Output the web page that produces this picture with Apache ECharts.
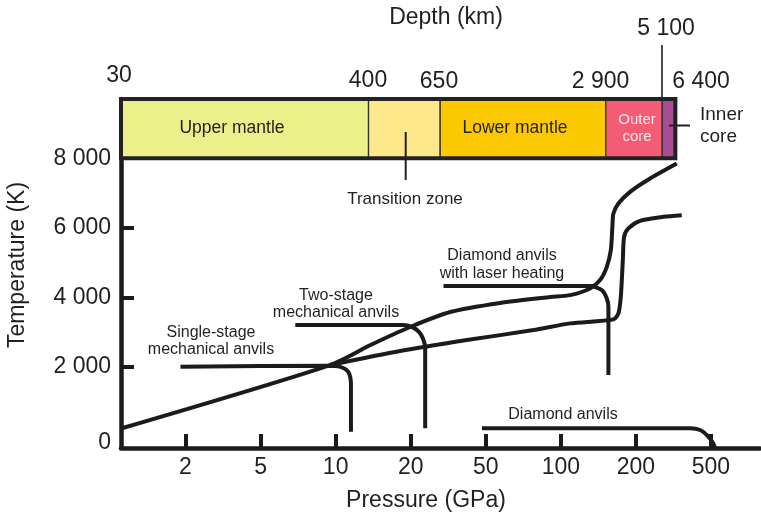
<!DOCTYPE html>
<html><head><meta charset="utf-8">
<script src="https://cdn.jsdelivr.net/npm/echarts@6/dist/echarts.min.js"></script>
<style>html,body{margin:0;padding:0;background:#fff}#c{width:761px;height:520px}</style>
</head><body><div id="c"></div>
<script>
// ---------- data (pressure in GPa, temperature in K) ----------
const pressureTicks = [2, 5, 10, 20, 50, 100, 200, 500];
const pressureRange = [0.91, 910];
const temperatureTicks = [0, 2000, 4000, 6000, 8000];
const temperatureRange = [-325, 9700];

const geothermUpperP = [0.91, 9.5, 13.8, 19.9, 32.4, 57.1, 90.6, 109, 131, 143.7, 152.9, 158.7, 161.0, 162.5, 170.2, 189.6, 237.8, 329.5];
const geothermUpperT = [235, 2057, 2632, 3150, 3580, 3840, 4010, 4067, 4259, 4498, 4879, 5359, 6028, 6412, 6700, 7033, 7417, 7848];

const geothermLowerP = [9.5, 18.15, 39.7, 77.7, 109, 162.5, 170.2, 174.0, 177.3, 179.4, 186.6, 210.5, 279.7, 350.1];
const geothermLowerT = [2057, 2459, 2775, 3062, 3255, 3369, 3542, 4018, 5072, 5741, 5982, 6200, 6315, 6364];

const singleStageP = [1.88, 9.5, 10.24, 10.83, 11.24, 11.44, 11.52, 11.52];
const singleStageT = [2010, 2040, 2020, 1960, 1860, 1715, 1510, 140];

const twoStageP = [6.89, 18.66, 20.37, 22.18, 23.29, 23.87, 23.87];
const twoStageT = [3206, 3206, 3148, 3005, 2804, 2545, 240];

const laserDiamondP = [29.85, 131.0, 146.0, 152.9, 155.2, 155.2];
const laserDiamondT = [4325, 4325, 4211, 3972, 3731, 1770];

const diamondP = [47.7, 387.6, 437.7, 481.2, 513, 525.8];
const diamondT = [240, 240, 191, 19, -182, -325];

const zoneNames = ['Upper mantle', 'Transition zone', 'Lower mantle', 'Outer core', 'Inner core'];
const zoneBoundsP = [0.91, 13.55, 28.67, 151.5, 276, 323.8];
const zoneBandT = [8000, 9700];
const depthLabels = ['30', '400', '650', '2 900', '5 100', '6 400'];

// ---------- pressure axis: 1-2-5 ticks evenly spaced, log between ticks ----------
function toAxis(p) {
  const t = pressureTicks, n = t.length - 1;
  let k = 0;
  while (k < n - 1 && p > t[k + 1]) k++;
  return k + Math.log(p / t[k]) / Math.log(t[k + 1] / t[k]);
}
const pairs = (P, T) => P.map((p, i) => [toAxis(p), T[i]]);
const fmtK = v => String(v).replace(/\B(?=(\d{3})+(?!\d))/g, ' ');

const FONT = '"Liberation Sans", Arial, Helvetica, sans-serif';
const INK = '#231f20';
const LINE = '#1b1b1b';
const zoneColors = ['#EBF08A', '#FDE98C', '#FCC800', '#F45B75', '#A84C94'];

const lineSeries = (P, T) => ({
  type: 'line', data: pairs(P, T), symbol: 'none', smooth: 0.25, z: 3,
  lineStyle: { color: LINE, width: 4 }, silent: true
});

function txt(text, x, y, size, extra, rot) {
  const el = { type: 'text', x: x, y: y, z: 50, style: Object.assign({
    text: text, font: size + 'px ' + FONT, fill: INK, textAlign: 'center', textVerticalAlign: 'middle'
  }, extra || {}) };
  if (rot) el.rotation = rot;
  return el;
}
function seg(x1, y1, x2, y2, w) {
  return { type: 'line', z: 50, shape: { x1: x1, y1: y1, x2: x2, y2: y2 }, style: { stroke: INK, lineWidth: w } };
}

const zoneData = zoneNames.map((n, i) => [toAxis(zoneBoundsP[i]), toAxis(zoneBoundsP[i + 1])]);

const option = {
  animation: false,
  backgroundColor: '#fff',
  grid: { left: 121, right: 1, top: 99, bottom: 72 },
  xAxis: {
    type: 'value', min: toAxis(pressureRange[0]), max: toAxis(pressureRange[1]),
    axisLine: { onZero: false, lineStyle: { color: LINE, width: 4.5 } },
    axisTick: { inside: true, length: 14, lineStyle: { color: LINE, width: 4 }, customValues: pressureTicks.map(toAxis) },
    axisLabel: { customValues: pressureTicks.map(toAxis), margin: 8, color: INK, fontSize: 23, fontFamily: FONT,
      formatter: v => { const i = Math.round(v); return String(pressureTicks[i]); } },
    splitLine: { show: false }
  },
  yAxis: {
    type: 'value', min: temperatureRange[0], max: temperatureRange[1],
    axisLine: { onZero: false, lineStyle: { color: LINE, width: 4.5 } },
    axisTick: { inside: true, length: 13, lineStyle: { color: LINE, width: 4 }, customValues: temperatureTicks.filter(v => v > 0) },
    axisLabel: { customValues: temperatureTicks, margin: 10, color: INK, fontSize: 23, fontFamily: FONT,
      formatter: v => v === 0 ? '{z|0}' : fmtK(v),
      rich: { z: { fontSize: 23, fontFamily: FONT, color: INK, padding: [12, 0, 0, 0] } } },
    splitLine: { show: false }
  },
  series: [
    lineSeries(geothermUpperP, geothermUpperT),
    lineSeries(geothermLowerP, geothermLowerT),
    lineSeries(singleStageP, singleStageT),
    lineSeries(twoStageP, twoStageT),
    lineSeries(laserDiamondP, laserDiamondT),
    lineSeries(diamondP, diamondT),
    {
      type: 'custom', z: 5, silent: true, data: zoneData,
      renderItem: (params, api) => {
        const a = api.coord([api.value(0), zoneBandT[1]]);
        const b = api.coord([api.value(1), zoneBandT[0]]);
        return { type: 'rect', shape: { x: a[0], y: a[1], width: b[0] - a[0], height: b[1] - a[1] },
          style: { fill: zoneColors[params.dataIndex], stroke: '#333', lineWidth: 1.3 } };
      }
    },
    {
      type: 'custom', z: 6, silent: true,
      data: [[toAxis(zoneBoundsP[0]), toAxis(zoneBoundsP[zoneBoundsP.length - 1])]],
      renderItem: (params, api) => {
        const a = api.coord([api.value(0), zoneBandT[1]]);
        const b = api.coord([api.value(1), zoneBandT[0]]);
        return { type: 'rect', shape: { x: a[0], y: a[1], width: b[0] - a[0], height: b[1] - a[1] },
          style: { fill: 'none', stroke: '#222', lineWidth: 4 } };
      }
    }
  ],
  graphic: { elements: [
    txt('Depth (km)', 446, 18, 23),
    txt(depthLabels[0], 119, 76, 23),
    txt(depthLabels[1], 368, 81, 23),
    txt(depthLabels[2], 439, 81.5, 23),
    txt(depthLabels[3], 600.5, 81.5, 23),
    txt(depthLabels[4], 666, 29, 23),
    txt(depthLabels[5], 701, 81.5, 23),
    seg(662, 45, 662, 99, 1.6),
    txt(zoneNames[0], 232, 128, 17.5),
    txt(zoneNames[2], 515, 128, 17.5),
    txt('Outer\ncore', 637, 128.5, 15, { fill: '#FDE8EC', lineHeight: 17 }),
    txt('Inner\ncore', 700, 126, 19, { textAlign: 'left', lineHeight: 22 }),
    seg(669, 125.5, 690, 125.5, 2),
    seg(405.7, 132, 405.7, 180, 2),
    txt(zoneNames[1], 405, 199, 17),
    txt('Single-stage\nmechanical anvils', 211, 341.5, 16, { lineHeight: 17 }),
    txt('Two-stage\nmechanical anvils', 336, 304.5, 16, { lineHeight: 17 }),
    txt('Diamond anvils\nwith laser heating', 502, 264.5, 16, { lineHeight: 17.5 }),
    txt('Diamond anvils', 563, 415, 16),
    txt('Temperature (K)', 18, 265, 23, {}, Math.PI / 2),
    txt('Pressure (GPa)', 426, 501, 23)
  ] }
};

const chart = echarts.init(document.getElementById('c'), null, { renderer: 'canvas' });
chart.setOption(option);
</script></body></html>
